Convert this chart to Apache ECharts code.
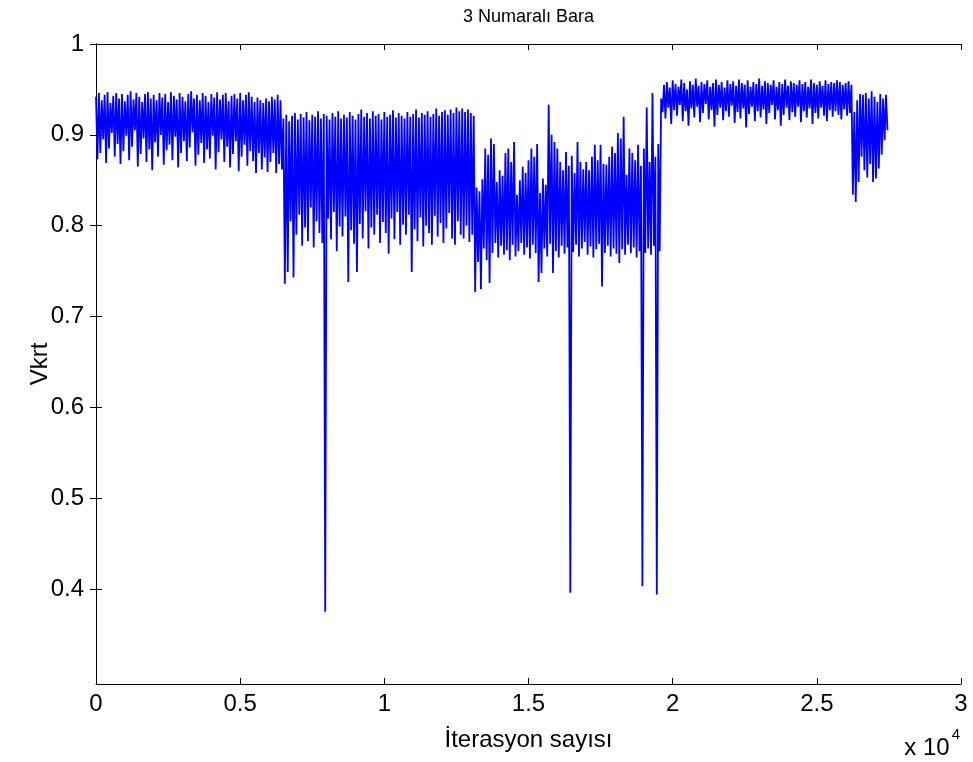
<!DOCTYPE html>
<html>
<head>
<meta charset="utf-8">
<script src="https://cdn.jsdelivr.net/npm/echarts@6/dist/echarts.min.js"></script>
<style>html,body{margin:0;padding:0;background:#fff}#c{width:973px;height:762px}</style>
</head>
<body>
<div id="c"></div>
<script>
const chartTitle = "3 Numaralı Bara";
const xName = "İterasyon sayısı";
const yName = "Vkrt";
const iterStep = 50;
const xTicks = [0, 5000, 10000, 15000, 20000, 25000, 30000];
const yTicks = [0.4, 0.5, 0.6, 0.7, 0.8, 0.9, 1];

// Segment 1: 0 - 6500
const seg1 = [
.942,.873,.946,.880,.938,.895,.944,.869,.947,.885,.935,.902,.943,.876,.946,.890,.940,.868,.945,.882,
.937,.899,.944,.872,.948,.887,.939,.905,.946,.865,.942,.879,.936,.896,.945,.870,.947,.884,.940,.861,
.944,.892,.938,.876,.946,.900,.941,.867,.945,.883,.936,.889,.947,.872,.943,.898,.939,.864,.946,.880,
.942,.893,.937,.871,.945,.886,.948,.903,.940,.866,.944,.878,.938,.891,.946,.869,.943,.884,.936,.874,
.945,.899,.941,.862,.947,.881,.939,.895,.944,.870,.946,.887,.937,.864,.943,.879,.945,.893,.940,.860,
.946,.876,.938,.889,.944,.866,.947,.882,.942,.871,.936,.858,.941,.880,.938,.862,.935,.875,.940,.859,
.937,.870,.942,.880,.939,.858,.944,.868,.938,.862
];
// Segment 2: 6500 - 13000
const seg2 = [
.918,.736,.922,.749,.915,.805,.921,.743,.924,.790,.917,.812,.923,.778,.919,.798,.925,.783,.916,.820,
.922,.776,.920,.805,.926,.792,.918,.781,.923,.375,.921,.808,.917,.785,.924,.815,.920,.772,.926,.799,
.918,.788,.922,.810,.919,.738,.925,.795,.921,.780,.917,.749,.923,.802,.928,.786,.920,.816,.924,.775,
.918,.798,.926,.790,.921,.812,.923,.781,.917,.804,.925,.792,.920,.769,.922,.808,.927,.785,.919,.815,
.924,.779,.921,.801,.918,.790,.925,.812,.920,.749,.923,.796,.928,.783,.919,.809,.924,.777,.922,.800,
.926,.792,.920,.779,.923,.811,.929,.788,.921,.803,.925,.781,.927,.797,.922,.814,.928,.786,.924,.779,
.930,.805,.926,.790,.929,.786,.925,.800,.928,.782
];
// Segment 3: 13000 - 19600
const seg3 = [
.924,.790,.921,.727,.842,.760,.838,.730,.851,.775,.885,.762,.878,.737,.896,.770,.890,.781,.848,.765,
.861,.778,.855,.768,.880,.773,.885,.762,.870,.779,.892,.766,.834,.772,.850,.781,.865,.768,.858,.776,
.872,.764,.885,.779,.876,.770,.890,.738,.836,.748,.852,.775,.845,.766,.933,.780,.900,.748,.892,.772,
.885,.765,.870,.778,.861,.769,.881,.776,.866,.396,.877,.771,.858,.779,.892,.766,.870,.775,.862,.782,
.870,.768,.861,.777,.876,.765,.889,.774,.872,.780,.889,.733,.868,.770,.867,.778,.876,.766,.887,.775,
.880,.769,.902,.759,.896,.774,.920,.768,.856,.779,.885,.770,.880,.776,.872,.765,.889,.772,.866,.403,
.885,.770,.930,.775,.870,.768,.946,.778,.876,.394,.890,.772
];
// Segment 4: 19600 - 26200
const seg4 = [
.940,.925,.955,.918,.958,.930,.952,.912,.960,.927,.956,.921,.953,.933,.961,.915,.957,.926,.950,.910,
.959,.929,.955,.919,.962,.931,.954,.914,.958,.924,.956,.934,.960,.917,.953,.927,.957,.909,.961,.922,
.955,.930,.958,.916,.952,.926,.960,.920,.956,.932,.959,.913,.954,.925,.961,.918,.957,.929,.955,.908,
.960,.923,.953,.931,.958,.915,.956,.926,.962,.919,.954,.928,.959,.912,.957,.924,.955,.933,.960,.917,
.953,.927,.958,.910,.956,.922,.961,.930,.954,.916,.959,.925,.957,.920,.955,.931,.960,.914,.956,.926,
.958,.919,.953,.929,.961,.912,.957,.924,.955,.918,.959,.930,.954,.921,.960,.915,.956,.927,.958,.920,
.957,.926,.960,.922,.958,.917,.955,.928,.957,.921,.959,.924
];
// Segment 5: 26200 - 27500
const seg5 = [
.955,.834,.925,.826,.938,.848,.945,.876,.944,.861,.946,.853,.940,.868,.948,.848,.942,.852,.936,.863,
.945,.878,.940,.894,.944,.905
];

const values = seg1.concat(seg2, seg3, seg4, seg5);
const seriesData = values.map((v, i) => [i * iterStep, v]);

const FONT = "'Liberation Sans', Arial, sans-serif";
const xMin = 0, xMax = 30000, yMin = 0.2955, yMax = 1;

const axisLineStyle = { show: true, lineStyle: { color: '#000', width: 1 } };
const chart = echarts.init(document.getElementById('c'), null, { renderer: 'canvas' });
chart.setOption({
  animation: false,
  backgroundColor: '#fff',
  graphic: [
    { type: 'text', x: 528.5, y: 17, style: { text: chartTitle, font: "18px " + FONT, fill: '#000', textAlign: 'center', textVerticalAlign: 'middle' } },
    { type: 'text', x: 528.5, y: 740, style: { text: xName, font: "24px " + FONT, fill: '#000', textAlign: 'center', textVerticalAlign: 'middle' } },
    { type: 'text', x: 40, y: 364, rotation: Math.PI / 2, style: { text: yName, font: "24px " + FONT, fill: '#000', textAlign: 'center', textVerticalAlign: 'middle' } },
    { type: 'text', x: 927, y: 748, style: { text: 'x 10', font: "24px " + FONT, fill: '#000', textAlign: 'center', textVerticalAlign: 'middle' } },
    { type: 'text', x: 956, y: 735, style: { text: '4', font: "15px " + FONT, fill: '#000', textAlign: 'center', textVerticalAlign: 'middle' } }
  ],
  grid: { left: 96, right: 12, top: 44, bottom: 78, containLabel: false },
  xAxis: [{
    type: 'value', min: xMin, max: xMax, position: 'bottom',
    axisLine: axisLineStyle,
    axisTick: { show: true, inside: true, length: 6, customValues: xTicks, lineStyle: { color: '#000' } },
    axisLabel: { customValues: xTicks, margin: 8, fontFamily: FONT, fontSize: 24, color: '#000',
      formatter: v => String(v / 10000) },
    splitLine: { show: false }
  }, {
    type: 'value', min: xMin, max: xMax, position: 'top',
    axisLine: axisLineStyle,
    axisTick: { show: true, inside: true, length: 6, customValues: xTicks, lineStyle: { color: '#000' } },
    axisLabel: { show: false }, splitLine: { show: false }
  }],
  yAxis: [{
    type: 'value', min: yMin, max: yMax, position: 'left',
    axisLine: axisLineStyle,
    axisTick: { show: true, inside: true, length: 6, customValues: yTicks, lineStyle: { color: '#000' } },
    axisLabel: { customValues: yTicks, margin: 12, fontFamily: FONT, fontSize: 24, color: '#000',
      formatter: v => String(Math.round(v * 10) / 10) },
    splitLine: { show: false }
  }, {
    type: 'value', min: yMin, max: yMax, position: 'right',
    axisLine: axisLineStyle,
    axisTick: { show: true, inside: true, length: 6, customValues: yTicks, lineStyle: { color: '#000' } },
    axisLabel: { show: false }, splitLine: { show: false }
  }],
  series: [{
    type: 'line', xAxisIndex: 0, yAxisIndex: 0, data: seriesData,
    showSymbol: false, symbol: 'none', sampling: null, clip: true,
    lineStyle: { color: '#0000ff', width: 1.8 }
  }]
});
</script>
</body>
</html>
